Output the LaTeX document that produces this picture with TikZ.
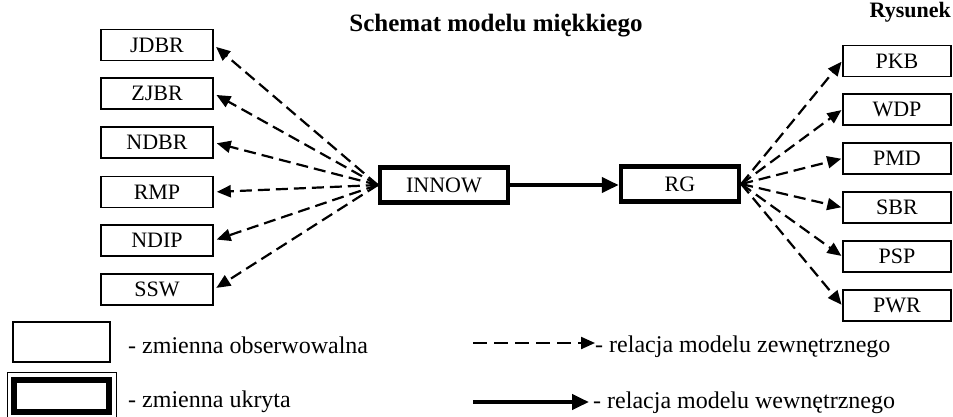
\documentclass[tikz,border=0pt]{standalone}
\usepackage{fontspec}
\setmainfont{Liberation Serif}
\usetikzlibrary{arrows.meta}
\begin{document}
\begin{tikzpicture}[x=1pt,y=-1pt,
  obs/.style={draw,line width=1.6pt,minimum width=112pt,minimum height=31pt,inner sep=0pt,font=\fontsize{22}{24}\selectfont},
  obsr/.style={obs,minimum width=108pt},
  hid/.style={draw,line width=4.5pt,minimum height=35pt,inner sep=0pt,font=\fontsize{22}{24}\selectfont},
  ext/.style={line width=2.2pt,dash pattern=on 12pt off 6pt,-{Triangle[length=14pt,width=12pt]}},
  inn/.style={line width=4pt,-{Triangle[length=17pt,width=15pt]}},
  lbl/.style={anchor=base west,inner sep=0pt,font=\fontsize{24}{26}\selectfont}]
\useasboundingbox (0,0) rectangle (953,416);
% title
\node[anchor=base,inner sep=0pt,font=\bfseries\fontsize{25}{27}\selectfont] (title) at (496,31) {Schemat modelu miękkiego};
\node[anchor=base east,inner sep=0pt,font=\bfseries\fontsize{22}{24}\selectfont] (rys) at (951,17) {Rysunek};
% left boxes
\node[obs] (jdbr) at (157,45) {JDBR};
\node[obs] (zjbr) at (157,93.5) {ZJBR};
\node[obs] (ndbr) at (157,142.5) {NDBR};
\node[obs] (rmp)  at (157,192) {RMP};
\node[obs] (ndip) at (157,240.5) {NDIP};
\node[obs] (ssw)  at (157,289.5) {SSW};
% right boxes
\node[obsr] (pkb) at (897,61) {PKB};
\node[obsr] (wdp) at (897,109.5) {WDP};
\node[obsr] (pmd) at (897,158.5) {PMD};
\node[obsr] (sbr) at (897,207.5) {SBR};
\node[obsr] (psp) at (897,256.5) {PSP};
\node[obsr] (pwr) at (897,305.5) {PWR};
% latent
\node[hid,minimum width=128pt] (innow) at (444,185) {INNOW};
\node[hid,minimum width=118pt] (rg) at (680,184) {RG};
% connectors
\draw[inn] (innow.east) -- (rg.west |- innow.east);
\foreach \t in {jdbr,zjbr,ndbr,rmp,ndip,ssw}
  \draw[ext,shorten >=3pt] (innow.west) -- (\t.east);
\foreach \t in {pkb,wdp,pmd,sbr,psp,pwr}
  \draw[ext,shorten >=1pt] (rg.east) -- (\t.west);
% legend
\node[draw,line width=1.6pt,minimum width=97pt,minimum height=40pt,inner sep=0pt] (lobs) at (61.5,342) {};
\node[draw,line width=1pt,minimum width=109pt,minimum height=50pt,inner sep=0pt] (lhidout) at (61.5,397) {};
\node[draw,line width=6pt,minimum width=95pt,minimum height=32pt,inner sep=0pt] (lhid) at (61.5,396) {};
\node[lbl] (tobs) at (128,353) {- zmienna obserwowalna};
\node[lbl] (thid) at (128,407) {- zmienna ukryta};
\coordinate (le1) at (473,343);
\node[lbl] (text) at (595,352) {- relacja modelu zewnętrznego};
\draw[ext,dash pattern=on 14pt off 7pt] (le1) -- (text.west |- le1);
\coordinate (li1) at (473,402);
\node[lbl] (tinn) at (593,408) {- relacja modelu wewnętrznego};
\draw[inn] (li1) -- ([xshift=-4pt]tinn.west |- li1);
\end{tikzpicture}
\end{document}
